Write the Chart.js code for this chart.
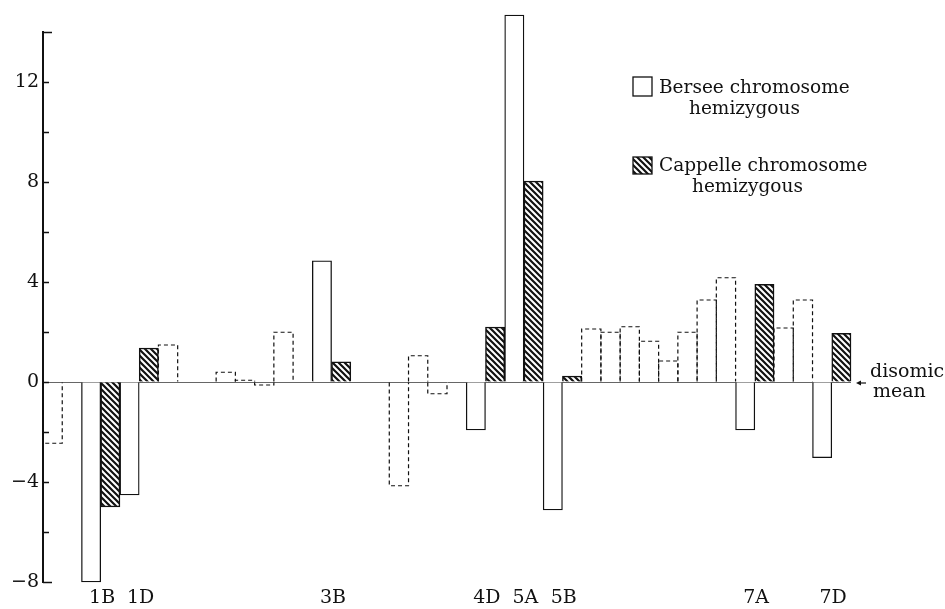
<!DOCTYPE html>
<html>
<head>
<meta charset="utf-8">
<script src="https://cdn.jsdelivr.net/npm/chart.js@4/dist/chart.umd.min.js"></script>
<style>
    body { margin: 0; background: #fff; }
    #wrap { width: 945px; height: 609px; }
</style>
</head>
<body>
<div id="wrap"><canvas id="chart" width="945" height="609"></canvas></div>
<script>
// one slot per hemizygous line, chromosome names only under the labelled pairs
const tickLabels = [
    "", "", "1B", "", "1D", "", "", "", "", "",
    "", "", "", "", "3B", "", "", "", "", "",
    "", "", "4D", "", "5A", "", "5B", "", "", "",
    "", "", "", "", "", "", "7A", "", "", "",
    "7D", ""
];

// Bersee chromosome hemizygous (open bars)
const bersee = [
    null, null, -8.0, null, -4.52, null, null, null, null, null,
    null, null, null, null, 4.85, null, null, null, null, null,
    null, null, -1.92, null, 14.68, null, -5.12, null, null, null,
    null, null, null, null, null, null, -1.92, null, null, null,
    -3.03, null
];

// Cappelle chromosome hemizygous (hatched bars)
const cappelle = [
    null, null, null, -5.0, null, 1.36, null, null, null, null,
    null, null, null, null, null, 0.81, null, null, null, null,
    null, null, null, 2.2, null, 8.04, null, 0.24, null, null,
    null, null, null, null, null, null, null, 3.91, null, null,
    null, 1.95
];

// non-significant lines (dashed outline)
const nonSig = [
    -2.45, null, null, null, null, null, 1.48, null, null, 0.39,
    0.07, -0.12, 1.99, null, null, null, null, null, -4.15, 1.05,
    -0.47, null, null, null, null, null, null, null, 2.12, 1.99,
    2.21, 1.63, 0.84, 1.99, 3.28, 4.17, null, null, 2.16, 3.28,
    null, null
];

const yTicks = { min: -8, max: 14, step: 2 };

const SERIF = "'DejaVu Serif', 'Liberation Serif', serif";
const INK = "#111";

function hatchPattern(size) {
    const c = document.createElement("canvas");
    c.width = size;
    c.height = size;
    const g = c.getContext("2d");
    g.fillStyle = "#fff";
    g.fillRect(0, 0, size, size);
    g.strokeStyle = INK;
    g.lineWidth = 2.2;
    g.beginPath();
    g.moveTo(-1, -1); g.lineTo(size + 1, size + 1);
    g.moveTo(-1, size - 1); g.lineTo(1, size + 1);
    g.moveTo(size - 1, -1); g.lineTo(size + 1, 1);
    g.stroke();
    return g.createPattern(c, "repeat");
}

const hatch = hatchPattern(6);

function minus(v) {
    return v < 0 ? "\u2212" + (-v) : String(v);
}

const extras = {
    id: "extras",
    afterDatasetsDraw(chart) {
        const ctx = chart.ctx;
        const area = chart.chartArea;
        const y = chart.scales.y;

        // dashed outlines for the non-significant bars
        const meta = chart.getDatasetMeta(2);
        ctx.save();
        ctx.strokeStyle = "#111";
        ctx.lineWidth = 1.2;
        ctx.setLineDash([4, 3]);
        meta.data.forEach((bar, i) => {
            if (nonSig[i] == null) return;
            const p = bar.getProps(["x", "y", "base", "width"], true);
            const l = p.x - p.width / 2;
            const r = p.x + p.width / 2;
            ctx.beginPath();
            ctx.moveTo(l, p.base);
            ctx.lineTo(l, p.y);
            ctx.lineTo(r, p.y);
            ctx.lineTo(r, p.base);
            ctx.stroke();
        });
        ctx.restore();

        // inward tick marks on the value axis
        ctx.save();
        ctx.strokeStyle = INK;
        ctx.lineWidth = 1.5;
        y.ticks.forEach((t) => {
            const py = Math.round(y.getPixelForValue(t.value)) + 0.5;
            const len = (t.value === yTicks.min || t.value === yTicks.max) ? 9 : 6;
            ctx.beginPath();
            ctx.moveTo(area.left, py);
            ctx.lineTo(area.left + len, py);
            ctx.stroke();
        });
        ctx.restore();

        // legend
        ctx.save();
        ctx.strokeStyle = INK;
        ctx.lineWidth = 1.3;
        ctx.font = "18.5px " + SERIF;
        ctx.textBaseline = "alphabetic";
        ctx.fillStyle = "#fff";
        ctx.fillRect(633, 77, 19, 19);
        ctx.strokeRect(633, 77, 19, 19);
        ctx.fillStyle = hatch;
        ctx.fillRect(633, 157, 19, 17);
        ctx.strokeRect(633, 157, 19, 17);
        ctx.fillStyle = INK;
        ctx.fillText("Bersee chromosome", 659, 93);
        ctx.fillText("hemizygous", 689, 114);
        ctx.fillText("Cappelle chromosome", 659, 171);
        ctx.fillText("hemizygous", 692, 192);

        // disomic mean marker
        const zero = y.getPixelForValue(0);
        ctx.lineWidth = 1.2;
        ctx.beginPath();
        ctx.moveTo(859, zero + 1);
        ctx.lineTo(866, zero + 1);
        ctx.stroke();
        ctx.beginPath();
        ctx.moveTo(856, zero + 1);
        ctx.lineTo(861, zero - 1.5);
        ctx.lineTo(861, zero + 3.5);
        ctx.closePath();
        ctx.fill();
        ctx.font = "19px " + SERIF;
        ctx.fillText("disomic", 870, zero - 5);
        ctx.fillText("mean", 873, zero + 15);
        ctx.restore();
    }
};

new Chart(document.getElementById("chart"), {
    type: "bar",
    data: {
        labels: tickLabels,
        datasets: [
            {
                label: "Bersee chromosome hemizygous",
                data: bersee,
                backgroundColor: "#fff",
                borderColor: INK,
                borderWidth: 1.3,
                clip: false,
            },
            {
                label: "Cappelle chromosome hemizygous",
                data: cappelle,
                backgroundColor: hatch,
                borderColor: INK,
                borderWidth: 1.5,
                clip: false,
            },
            {
                label: "not significant",
                data: nonSig,
                backgroundColor: "rgba(0,0,0,0)",
                borderWidth: 0,
                clip: false,
            },
        ],
    },
    options: {
        responsive: false,
        animation: false,
        barPercentage: 1,
        categoryPercentage: 1,
        layout: { padding: { top: 32, right: 94, left: 0, bottom: 0 } },
        plugins: {
            legend: { display: false },
            tooltip: { enabled: false },
        },
        scales: {
            x: {
                stacked: true,
                grid: { display: false, drawTicks: false },
                border: { display: false },
                ticks: {
                    autoSkip: false,
                    maxRotation: 0,
                    labelOffset: 11,
                    padding: 5,
                    color: INK,
                    font: { family: SERIF, size: 19 },
                },
                afterFit: (s) => { s.height = 27; },
            },
            y: {
                stacked: false,
                min: yTicks.min,
                max: yTicks.max,
                ticks: {
                    stepSize: yTicks.step,
                    padding: 4,
                    color: INK,
                    font: { family: SERIF, size: 19 },
                    callback: (v) => (v % 4 === 0 ? minus(v) : ""),
                },
                grid: {
                    drawTicks: false,
                    color: (c) => (c.tick && c.tick.value === 0 ? "#666" : "rgba(0,0,0,0)"),
                    lineWidth: 1,
                },
                border: { display: true, color: INK, width: 2 },
                afterFit: (s) => { s.width = 43; },
            },
        },
    },
    plugins: [extras],
});
</script>
</body>
</html>
